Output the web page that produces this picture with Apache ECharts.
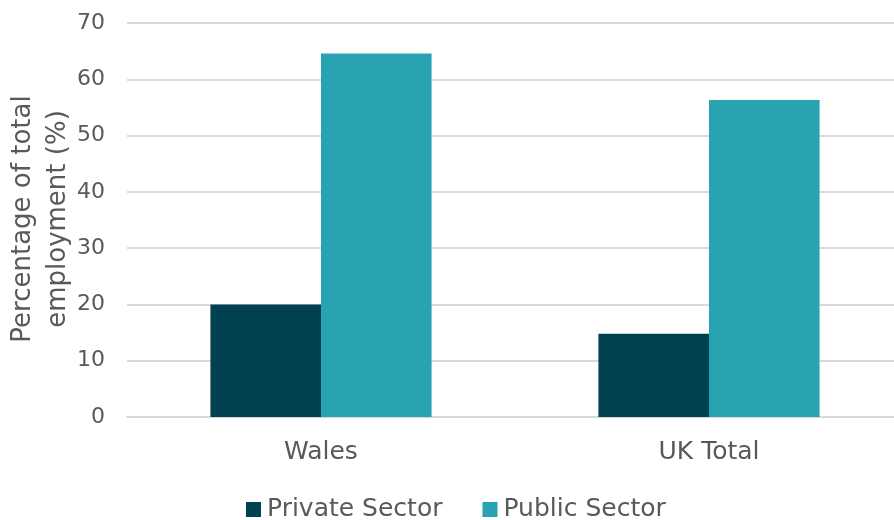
<!DOCTYPE html>
<html>
<head>
<meta charset="utf-8">
<script src="https://cdn.jsdelivr.net/npm/echarts@6/dist/echarts.min.js"></script>
<style>
  html, body { margin: 0; padding: 0; background: #ffffff; }
  #chart { width: 894px; height: 520px; }
</style>
</head>
<body>
<div id="chart"></div>
<script>
// Share of employment by sector, Wales vs UK total
const categories = ['Wales', 'UK Total'];
const privateSector = [20.0, 14.8];
const publicSector = [64.6, 56.3];
const yTicks = { min: 0, max: 70, interval: 10 };
const yTitle = 'Percentage of total\nemployment (%)';

const FONT = 'DejaVu Sans';
const TEXT = '#595959';

const chart = echarts.init(document.getElementById('chart'), null, { renderer: 'canvas' });

chart.setOption({
  backgroundColor: '#ffffff',
  animation: false,
  textStyle: { fontFamily: FONT, color: TEXT },
  grid: { left: 127, top: 23, width: 776, height: 394, containLabel: false, outerBoundsMode: 'none' },
  // vertical axis title, two lines rotated beside the value labels
  graphic: [{
    type: 'text',
    x: 41,
    y: 219,
    rotation: Math.PI / 2,
    style: {
      text: yTitle,
      fontFamily: FONT,
      fontSize: 26,
      lineHeight: 35,
      fill: TEXT,
      align: 'center',
      verticalAlign: 'middle'
    }
  }],
  legend: {
    left: 241,
    top: 492,
    itemWidth: 15,
    itemHeight: 15,
    itemGap: 40,
    icon: 'rect',
    textStyle: { fontFamily: FONT, fontSize: 25, color: TEXT, padding: [0, 0, 0, 1] },
    data: ['Private Sector', 'Public Sector']
  },
  xAxis: {
    type: 'category',
    data: categories,
    axisLine: { show: true, lineStyle: { color: '#d9d9d9', width: 2 } },
    axisTick: { show: false },
    axisLabel: { fontFamily: FONT, fontSize: 25, color: TEXT, margin: 23 }
  },
  yAxis: {
    type: 'value',
    min: yTicks.min,
    max: yTicks.max,
    interval: yTicks.interval,
    axisLine: { show: false },
    axisTick: { show: false },
    axisLabel: { fontFamily: FONT, fontSize: 22, color: TEXT, margin: 22 },
    splitLine: { lineStyle: { color: '#d9d9d9', width: 2 } }
  },
  series: [
    {
      name: 'Private Sector',
      type: 'bar',
      data: privateSector,
      barGap: '0%',
      barCategoryGap: '43%',
      itemStyle: { color: '#024152' }
    },
    {
      name: 'Public Sector',
      type: 'bar',
      data: publicSector,
      barGap: '0%',
      barCategoryGap: '43%',
      itemStyle: { color: '#29a3b1' }
    }
  ]
});
</script>
</body>
</html>
